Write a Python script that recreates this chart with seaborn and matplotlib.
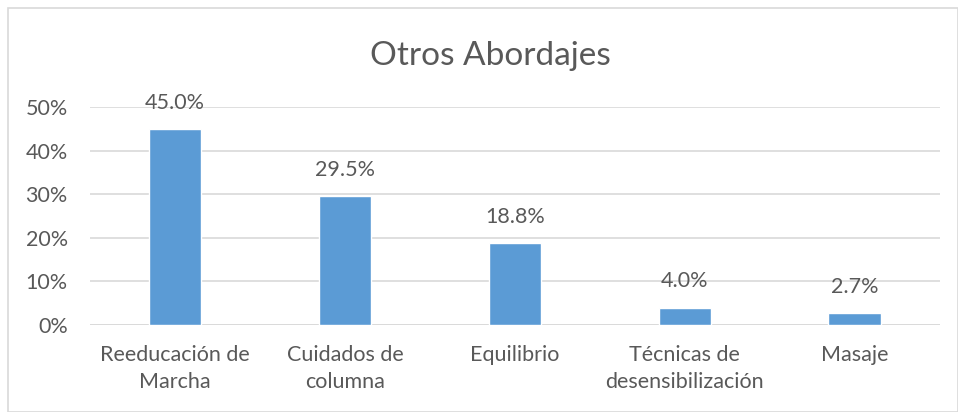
import pandas as pd
import numpy as np
import seaborn as sns
import matplotlib.pyplot as plt
from matplotlib.patches import Rectangle

sns.set_style("white")
plt.rcParams['font.family'] = ['Lato', 'DejaVu Sans']

categorias = ["Reeducación de\nMarcha", "Cuidados de\ncolumna", "Equilibrio",
              "Técnicas de\ndesensibilización", "Masaje"]
valores = [0.450, 0.295, 0.188, 0.040, 0.027]
etiquetas = ["45.0%", "29.5%", "18.8%", "4.0%", "2.7%"]
yticks = [0, 0.1, 0.2, 0.3, 0.4, 0.5]
ytick_labels = ["0%", "10%", "20%", "30%", "40%", "50%"]

gris = "#595959"
df = pd.DataFrame({"cat": categorias, "val": valores})

fig = plt.figure(figsize=(9.58, 4.12), dpi=100)
ax = fig.add_axes([0.094, 0.211, 0.887, 0.529])
sns.barplot(data=df, x="cat", y="val", color="#5B9BD5", saturation=1, width=0.31, ax=ax)

ax.set_ylim(0, 0.5)
ax.set_xlim(-0.5, 4.5)
ax.set_yticks(yticks)
ax.set_yticklabels(ytick_labels)
ax.yaxis.grid(True, color="#D9D9D9", linewidth=1.2)
ax.set_axisbelow(True)
for s in ax.spines.values():
    s.set_visible(False)
ax.axhline(0, color="#D9D9D9", linewidth=1.2, zorder=0)
ax.set_xlabel("")
ax.set_ylabel("")
ax.tick_params(axis="both", length=0, labelsize=15.5, colors=gris)
ax.tick_params(axis="x", pad=14)
ax.tick_params(axis="y", pad=16)
for lbl in ax.get_xticklabels():
    lbl.set_linespacing(1.45)

for i, (v, t) in enumerate(zip(valores, etiquetas)):
    ax.annotate(t, (i, v), xytext=(0, 19), textcoords="offset points",
                ha="center", va="center", fontsize=15.5, color=gris, clip_on=False)

fig.text(0.512, 0.865, "Otros Abordajes", ha="center", va="center", fontsize=24, color=gris)
fig.patches.append(Rectangle((8/958, 0), 1 - 8/958, 1 - 8/412, transform=fig.transFigure,
                             fill=False, edgecolor="#D9D9D9", linewidth=1.2))

fig.savefig("out.png", dpi=100)
